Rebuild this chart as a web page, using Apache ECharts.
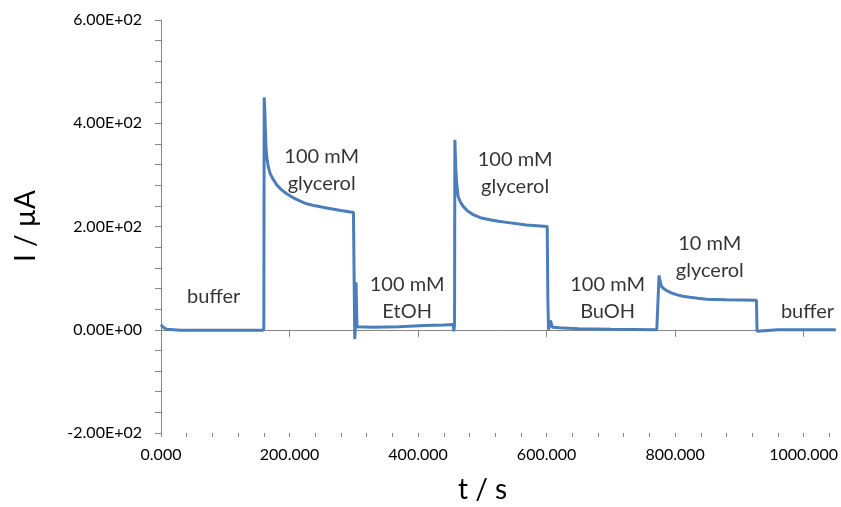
<!DOCTYPE html>
<html>
<head>
<meta charset="utf-8">
<script src="https://cdn.jsdelivr.net/npm/echarts@6/dist/echarts.min.js"></script>
<style>html,body{margin:0;padding:0;background:#fff;}#c{width:841px;height:507px;}</style>
</head>
<body>
<div id="c"></div>
<script>
// time (s)
var timeS = [0, 3, 9, 30, 100, 159, 160, 160.6, 161.7, 162.5, 163.3, 164.5, 166.9, 170, 174.7, 180, 187.7, 195, 205.3, 215, 226.6, 240, 257.7, 280, 299.5,
  300.5, 301.5, 302.5, 303.5, 305, 330, 370, 410, 440, 454.5, 455.8, 456.8, 457.3, 458, 458.8, 460, 462.4, 466, 470.2, 477, 485.8, 497, 511.8, 525,
  537.7, 568.8, 601, 602, 603, 606, 609, 620, 650, 700, 771.5, 772.5, 775, 776.5, 778.8, 782, 786.6, 793, 802, 812, 823, 835, 849, 880, 926.6,
  927.5, 929, 960, 1050];
// current (µA)
var currentUA = [10, 5, 1, -1, -1, -1, 3, 450, 420, 385, 355, 335, 316, 302, 291, 281, 271, 264, 256, 250, 244, 240, 236, 231, 227,
  100, -18, 4, 92, 6, 5, 6, 8, 9, 10, -3, 12, 368, 340, 310, 285, 258, 247, 239, 230, 223, 217, 213, 210,
  208, 203, 200, 60, 0, 18, 5, 4, 2, 1, 0, 0, 105, 94, 84, 80, 76, 72, 68, 65, 63, 61, 59, 58, 57,
  -3, 0, 0, 0];
// annotations [t, I, text]
var noteT = [82, 250, 383, 551, 695, 854, 1006];
var noteI = [64, 310, 62, 304, 62, 141, 35];
var noteText = ['buffer', '100 mM\nglycerol', '100 mM\nEtOH', '100 mM\nglycerol', '100 mM\nBuOH', '10 mM\nglycerol', 'buffer'];
// ticks
var xMajorTicks = [0, 200, 400, 600, 800, 1000];
var xMinorTicks = [0, 40, 80, 120, 160, 200, 240, 280, 320, 360, 400, 440, 480, 520, 560, 600, 640, 680, 720, 760, 800, 840, 880, 920, 960, 1000, 1040];

var lineData = timeS.map(function (t, i) { return [t, currentUA[i]]; });
var noteData = noteT.map(function (t, i) { return [t, noteI[i], noteText[i]]; });

function sci(v) {
  var s = Number(v).toExponential(2).toUpperCase();
  var m = s.split('E');
  var e = parseInt(m[1], 10);
  var es = (e < 0 ? '-' : '+') + (Math.abs(e) < 10 ? '0' : '') + Math.abs(e);
  return m[0] + 'E' + es;
}

var FONT = 'Lato';
var axisCol = '#868686';
var chart = echarts.init(document.getElementById('c'), null, {renderer: 'canvas'});
chart.setOption({
  animation: false,
  backgroundColor: '#ffffff',
  grid: {left: 161, right: 5, top: 20, bottom: 74, containLabel: false},
  xAxis: [{
    type: 'value', min: 0, max: 1050, interval: 200,
    axisLine: {show: true, lineStyle: {color: axisCol, width: 1}},
    axisTick: {show: true, length: 7, lineStyle: {color: axisCol}, customValues: xMajorTicks},
    axisLabel: {customValues: xMajorTicks, margin: 14, color: '#000', fontFamily: FONT, fontSize: 16,
      formatter: function (v) { return Number(v).toFixed(3); }},
    splitLine: {show: false}
  }, {
    type: 'value', min: 0, max: 1050, interval: 40, position: 'bottom',
    axisLine: {show: false},
    axisTick: {show: true, length: 4, lineStyle: {color: axisCol}, customValues: xMinorTicks},
    axisLabel: {show: false},
    splitLine: {show: false}
  }],
  yAxis: {
    type: 'value', min: -200, max: 600, interval: 200,
    axisLine: {show: true, lineStyle: {color: axisCol, width: 1}},
    axisTick: {show: true, length: 6, lineStyle: {color: axisCol}},
    minorTick: {show: true, splitNumber: 5, length: 6, lineStyle: {color: axisCol}},
    axisLabel: {margin: 19, color: '#000', fontFamily: FONT, fontSize: 16, formatter: sci},
    splitLine: {show: false}
  },
  graphic: [
    {type: 'text', left: 498 - 40, top: 476, style: {text: 't / s', font: '28px Lato', fill: '#000', width: 80, align: 'center'}},
    {type: 'text', x: 26, y: 226, rotation: Math.PI / 2,
      style: {text: 'I / µA', font: '28px Lato', fill: '#000', align: 'center', verticalAlign: 'middle'}}
  ],
  series: [{
    type: 'line', xAxisIndex: 0, data: lineData, showSymbol: false, smooth: false,
    lineStyle: {color: '#4a7ebb', width: 3}, itemStyle: {color: '#4a7ebb'}, z: 3
  }, {
    type: 'scatter', xAxisIndex: 0, data: noteData, symbolSize: 0, silent: true,
    label: {show: true, position: 'inside', color: '#000', fontFamily: FONT, fontSize: 20, lineHeight: 27,
      align: 'center', formatter: function (p) { return p.data[2]; }},
    z: 4
  }]
});
</script>
</body>
</html>
